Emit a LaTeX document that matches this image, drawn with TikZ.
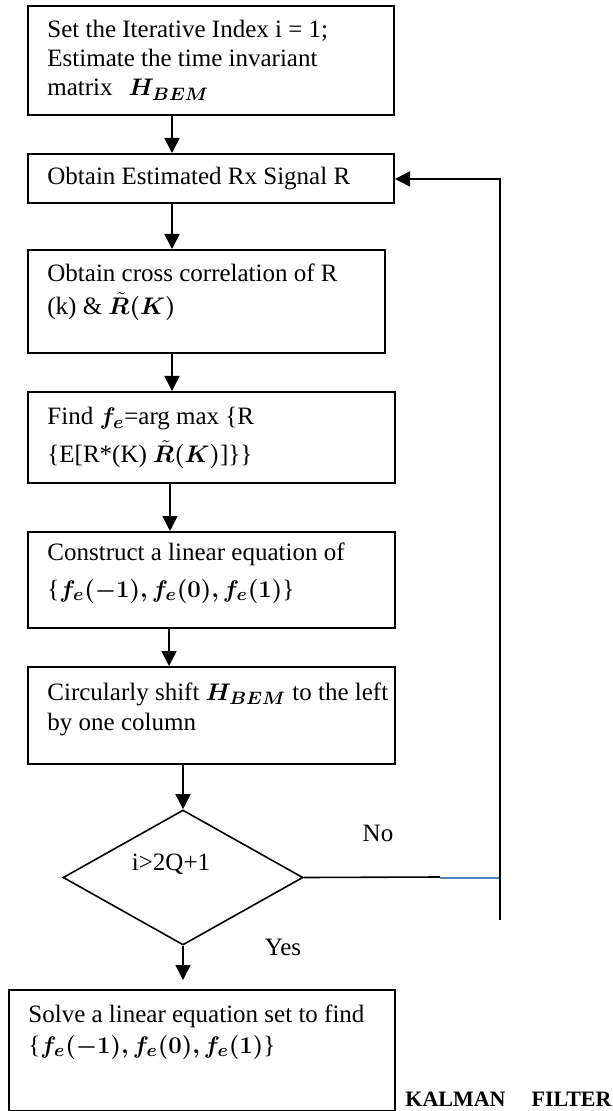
\documentclass[tikz,border=0pt]{standalone}
\usepackage{fontspec}
\setmainfont{Liberation Serif}
\usepackage{amsmath}
\usepackage{bm}
\usetikzlibrary{arrows.meta,shapes.geometric}
\definecolor{linkblue}{RGB}{79,129,189}
\begin{document}
\begin{tikzpicture}[x=0.5pt,y=-0.5pt,
  box/.style={draw, line width=1pt, rectangle, inner sep=0pt, anchor=north west},
  txt/.style={anchor=base west, inner sep=0pt, font=\fontsize{12.5}{14.5}\selectfont},
  lbl/.style={inner sep=0pt, font=\fontsize{12.5}{14.5}\selectfont},
  conn/.style={line width=0.8pt},
  arr/.style={conn, -{Triangle[length=7.5pt,width=7.5pt]}},
  decision/.style={draw, diamond, line width=0.8pt, inner sep=0pt, minimum width=120pt, minimum height=67.5pt}]
\useasboundingbox (0,0) rectangle (613,1111);

% boxes
\node[box, minimum width=183pt, minimum height=54.5pt] (b1) at (27,5) {};
\node[box, minimum width=183pt, minimum height=24.5pt] (b2) at (27,153) {};
\node[box, minimum width=178.5pt, minimum height=51.5pt] (b3) at (27,249) {};
\node[box, minimum width=183.5pt, minimum height=45.5pt] (b4) at (27,391) {};
\node[box, minimum width=183.5pt, minimum height=48pt] (b5) at (27,531) {};
\node[box, minimum width=183.5pt, minimum height=48.5pt] (b6) at (27,666) {};
\node[decision] (d) at (183,877.5) {};
\node[box, minimum width=193pt, minimum height=60.5pt] (b7) at (8,989) {};

% texts
\node[txt] (t1a) at (47,38) {Set the Iterative Index i = 1;};
\node[txt] (t1b) at (47,67) {Estimate the time invariant};
\node[txt] (t1c) at (47,96) {matrix\hspace{8pt}$\bm{H}_{\bm{BEM}}$};
\node[txt] (t2a) at (47,185) {Obtain Estimated Rx Signal R};
\node[txt] (t3a) at (47,282) {Obtain cross correlation of R};
\node[txt] (t3b) at (47,315) {(k) \& $\bm{\tilde{R}(K)}$};
\node[txt] (t4a) at (47,425) {Find $\bm{f_e}$=arg max \{R};
\node[txt] (t4b) at (47,463) {\{E[R*(K) $\bm{\tilde{R}(K)}$]\}\}};
\node[txt] (t5a) at (47,560) {Construct a linear equation of};
\node[txt] (t5b) at (47,597) {\{$\bm{f_e(-1), f_e(0), f_e(1)}$\}};
\node[txt] (t6a) at (47,700) {Circularly shift $\bm{H}_{\bm{BEM}}$ to the left};
\node[txt] (t6b) at (47,730) {by one column};
\node[lbl] (td) at (171,864) {i>2Q+1};
\node[txt] (t7a) at (28,1022) {Solve a linear equation set to find};
\node[txt] (t7b) at (28,1053) {\{$\bm{f_e(-1), f_e(0), f_e(1)}$\}};
\node[lbl] (no) at (378,833) {No};
\node[lbl] (yes) at (283,947) {Yes};
\node[anchor=base west, inner sep=0pt, font=\fontsize{11}{13}\selectfont\bfseries] (kf) at (405,1106) {KALMAN\hspace{13pt}FILTER};

% connectors
\draw[arr] (b1.south -| 172,0) -- (b2.north -| 172,0);
\draw[arr] (b2.south -| 172,0) -- (b3.north -| 172,0);
\draw[arr] (b3.south -| 172,0) -- (b4.north -| 172,0);
\draw[arr] (b4.south -| 170,0) -- (b5.north -| 170,0);
\draw[arr] (b5.south -| 169,0) -- (b6.north -| 169,0);
\draw[arr] (b6.south -| d.north) -- (d.north);
\draw[arr, shorten >=4.5pt] (d.south) -- (b7.north -| d.south);

\coordinate (m) at (440,877);
\coordinate (j) at (500,878);
\coordinate (tail) at (500,920);
\coordinate (c) at (500,179);
\draw[conn] (d.east) -- (m);
\draw[conn, linkblue] (m |- j) -- (j);
\draw[arr] (tail) -- (c) -- (c -| b2.east);
\end{tikzpicture}
\end{document}
